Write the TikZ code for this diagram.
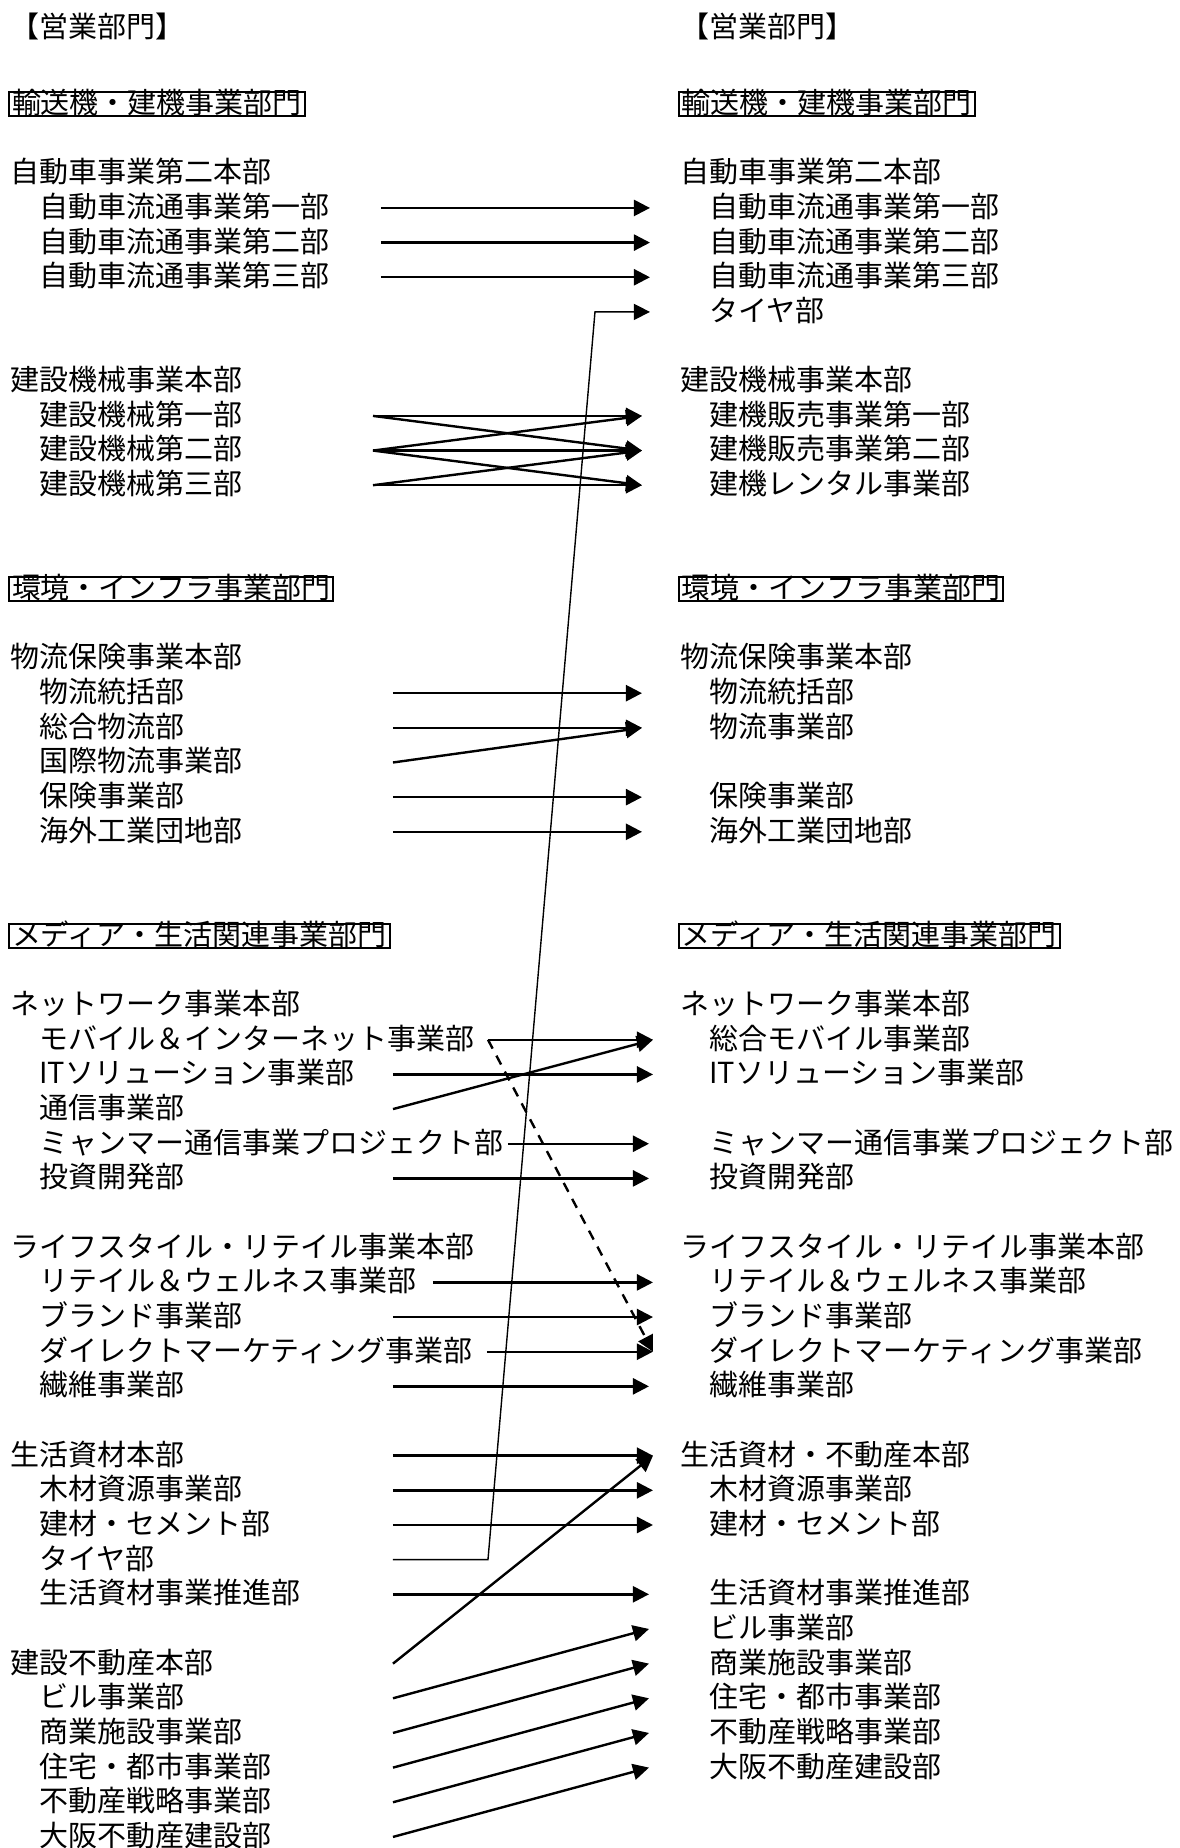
\documentclass[tikz,border=0pt]{standalone}
\usepackage{fontspec}
\newfontfamily\jp{Noto Sans CJK JP}
\usetikzlibrary{arrows.meta}
\begin{document}
\begin{tikzpicture}[x=0.5pt,y=-17.33pt,
  txt/.style={anchor=west,inner sep=0pt,font=\jp\fontsize{14.5pt}{17pt}\selectfont,text height=0.97em,text depth=0.03em},
  bumon/.style={txt,draw,line width=1pt,inner xsep=1.5pt,inner ysep=1pt},
  arr/.style={line width=1.2pt,-{Triangle[length=8pt,width=8pt]}}]
\useasboundingbox (0,0) rectangle (1180,53.32);
\node[txt] (title1) at (10,0.8) {【営業部門】};
\node[txt] (title2) at (680,0.8) {【営業部門】};
\foreach \r/\t in {3/輸送機・建機事業部門,17/環境・インフラ事業部門,27/メディア・生活関連事業部門}
{\node[bumon] (lb\r) at (8,\r) {\t};
 \node[bumon] (rb\r) at (678,\r) {\t};}
\foreach \r/\t in {5/自動車事業第二本部,11/建設機械事業本部,19/物流保険事業本部,29/ネットワーク事業本部,36/ライフスタイル・リテイル事業本部,42/生活資材本部,48/建設不動産本部}
  \node[txt] (lh\r) at (10,\r) {\t};
\foreach \r/\t in {6/自動車流通事業第一部,7/自動車流通事業第二部,8/自動車流通事業第三部,12/建設機械第一部,13/建設機械第二部,14/建設機械第三部,20/物流統括部,21/総合物流部,22/国際物流事業部,23/保険事業部,24/海外工業団地部,30/モバイル＆インターネット事業部,31/ITソリューション事業部,32/通信事業部,33/ミャンマー通信事業プロジェクト部,34/投資開発部,37/リテイル＆ウェルネス事業部,38/ブランド事業部,39/ダイレクトマーケティング事業部,40/繊維事業部,43/木材資源事業部,44/建材・セメント部,45/タイヤ部,46/生活資材事業推進部,49/ビル事業部,50/商業施設事業部,51/住宅・都市事業部,52/不動産戦略事業部,53/大阪不動産建設部}
  \node[txt] (l\r) at (39,\r) {\t};
\foreach \r/\t in {5/自動車事業第二本部,11/建設機械事業本部,19/物流保険事業本部,29/ネットワーク事業本部,36/ライフスタイル・リテイル事業本部,42/生活資材・不動産本部}
  \node[txt] (rh\r) at (680,\r) {\t};
\foreach \r/\t in {6/自動車流通事業第一部,7/自動車流通事業第二部,8/自動車流通事業第三部,9/タイヤ部,12/建機販売事業第一部,13/建機販売事業第二部,14/建機レンタル事業部,20/物流統括部,21/物流事業部,23/保険事業部,24/海外工業団地部,30/総合モバイル事業部,31/ITソリューション事業部,33/ミャンマー通信事業プロジェクト部,34/投資開発部,37/リテイル＆ウェルネス事業部,38/ブランド事業部,39/ダイレクトマーケティング事業部,40/繊維事業部,43/木材資源事業部,44/建材・セメント部,46/生活資材事業推進部,47/ビル事業部,48/商業施設事業部,49/住宅・都市事業部,50/不動産戦略事業部,51/大阪不動産建設部}
  \node[txt] (r\r) at (709,\r) {\t};
\foreach \r/\x in {6/381,7/381,8/381,12/373,13/373,14/373,20/393,21/393,22/393,23/393,24/393,30/488,31/393,32/393,33/508,34/393,37/433,38/393,39/487,40/393,42/393,43/393,44/393,45/393,46/393,48/393,49/393,50/393,51/393,52/393,53/393}
  \coordinate (a\r) at (\x,\r);
\foreach \r/\x in {6/650,7/650,8/650,9/650,12/642,13/642,14/642,20/642,21/642,23/642,24/642,30/653,31/653,33/649,34/649,37/653,38/653,39/653,40/649,42/653,43/653,44/653,46/649,47/649,48/649,49/649,50/649,51/649}
  \coordinate (b\r) at (\x,\r);
\coordinate (t1) at (488,45);
\coordinate (t2) at (595,9);
\foreach \p/\q in {6/6,7/7,8/8,12/12,12/13,13/12,13/13,13/14,14/13,14/14,20/20,21/21,22/21,23/23,24/24,30/30,31/31,32/30,33/33,34/34,37/37,38/38,39/39,40/40,42/42,43/43,44/44,46/46,48/42,49/47,50/48,51/49,52/50,53/51}
  \draw[arr] (a\p) -- (b\q);
\draw[arr,line width=0.7pt] (a45) -- (t1) -- (t2) -- (b9);
\draw[arr,dash pattern=on 5pt off 4pt] (a30) -- (b39);
\end{tikzpicture}
\end{document}
